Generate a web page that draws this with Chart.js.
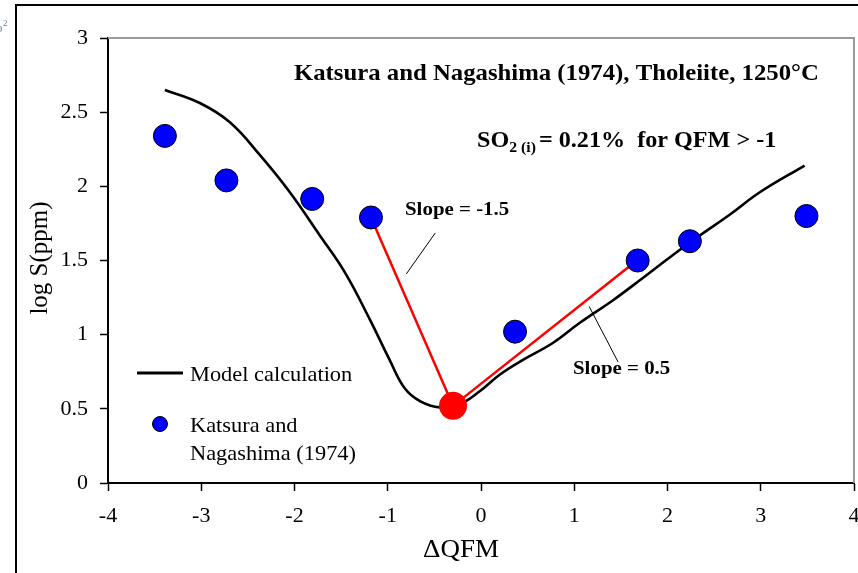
<!DOCTYPE html>
<html>
<head>
<meta charset="utf-8">
<script src="https://cdn.jsdelivr.net/npm/chart.js@4.4.1/dist/chart.umd.min.js"></script>
<style>
  html, body { margin: 0; padding: 0; background: #fff; }
  canvas { display: block; }
</style>
</head>
<body>
<canvas id="chart" width="858" height="573"></canvas>
<script>
// ─── Data ──────────────────────────────────────────────────────

// Model calculation curve (black line)
const modelX = [-3.39, -3.01, -2.69, -2.37, -2.05, -1.73, -1.46, -1.19, -0.98, -0.82, -0.65, -0.44, -0.23, -0.01, 0.20, 0.45, 0.77, 1.06, 1.42, 1.71, 2.03, 2.35, 2.67, 2.99, 3.47];
const modelY = [2.65, 2.56, 2.43, 2.21, 1.96, 1.67, 1.42, 1.10, 0.83, 0.64, 0.55, 0.51, 0.53, 0.62, 0.73, 0.83, 0.944, 1.08, 1.234, 1.37, 1.524, 1.67, 1.81, 1.96, 2.14];

// Katsura and Nagashima (1974) measurements (blue dots)
const expX = [-3.39, -2.73, -1.81, -1.18, 0.365, 1.68, 2.24, 3.49];
const expY = [2.34, 2.04, 1.915, 1.79, 1.02, 1.50, 1.63, 1.80];

// Slope lines (red) through the minimum
const slopeX = [-1.18, -0.30, 1.61];
const slopeY = [1.79, 0.52, 1.47];
const minX = [-0.30];
const minY = [0.52];

// Leader lines from the slope labels
const leader1X = [-0.49, -0.80];
const leader1Y = [1.686, 1.41];
const leader2X = [1.16, 1.47];
const leader2Y = [1.19, 0.816];

const xTickLabels = ['-4', '-3', '-2', '-1', '0', '1', '2', '3', '4'];
const yTickLabels = ['0', '0.5', '1', '1.5', '2', '2.5', '3'];

const SERIF = '"Liberation Serif", "Times New Roman", serif';

const pts = (xs, ys) => xs.map((x, i) => ({ x, y: ys[i] }));

// Source figure is slightly stretched horizontally, so text is too.
function wideText(ctx, text, x, y, sx) {
    ctx.save();
    ctx.translate(x, y);
    ctx.scale(sx, 1);
    ctx.fillText(text, 0, 0);
    const w = ctx.measureText(text).width * sx;
    ctx.restore();
    return w;
}

// ─── Frame, titles and legend drawn on top of the chart ──────

const decorations = {
    id: 'decorations',
    beforeDraw(chart) {
        const ctx = chart.ctx;
        ctx.save();
        ctx.fillStyle = '#fff';
        ctx.fillRect(0, 0, chart.width, chart.height);
        ctx.restore();
    },
    afterDraw(chart) {
        const ctx = chart.ctx;
        const a = chart.chartArea;
        ctx.save();

        // outer frame (left + top only, rest is cut off)
        ctx.strokeStyle = '#000';
        ctx.lineWidth = 2;
        ctx.beginPath();
        ctx.moveTo(16, chart.height);
        ctx.lineTo(16, 5);
        ctx.lineTo(chart.width, 5);
        ctx.stroke();

        // grey top/right border of the plot area
        ctx.strokeStyle = '#9a9a9a';
        ctx.lineWidth = 2;
        ctx.beginPath();
        ctx.moveTo(a.left, a.top);
        ctx.lineTo(a.right, a.top);
        ctx.lineTo(a.right, a.bottom);
        ctx.stroke();

        // cropped fragment in the top-left corner
        ctx.fillStyle = '#6b7fa6';
        ctx.font = '13px ' + SERIF;
        ctx.textBaseline = 'alphabetic';
        ctx.fillText('o', -4, 32);
        ctx.font = '9px ' + SERIF;
        ctx.fillText('2', 3, 26);

        ctx.fillStyle = '#000';

        // axis titles
        ctx.font = '25px ' + SERIF;
        ctx.textAlign = 'center';
        ctx.textBaseline = 'middle';
        ctx.save();
        ctx.translate(461, 550);
        ctx.scale(1.08, 1);
        ctx.fillText('\u0394QFM', 0, 0);
        ctx.restore();
        ctx.save();
        ctx.translate(40, 258);
        ctx.rotate(-Math.PI / 2);
        ctx.fillText('log S(ppm)', 0, 0);
        ctx.restore();

        // title
        ctx.textAlign = 'left';
        ctx.textBaseline = 'alphabetic';
        ctx.font = 'bold 23px ' + SERIF;
        wideText(ctx, 'Katsura and Nagashima (1974), Tholeiite, 1250\u00b0C', 294, 80, 1.076);

        // SO2 line with subscript
        let x = 477;
        const base = 147;
        const sx = 1.05;
        ctx.font = 'bold 23px ' + SERIF;
        x += wideText(ctx, 'SO', x, base, sx);
        ctx.font = 'bold 15px ' + SERIF;
        x += wideText(ctx, '2 (i)', x, base + 5, sx) + 3;
        ctx.font = 'bold 23px ' + SERIF;
        wideText(ctx, '= 0.21%  for QFM > -1', x, base, sx);

        // slope labels
        ctx.font = 'bold 19px ' + SERIF;
        ctx.textBaseline = 'middle';
        wideText(ctx, 'Slope = -1.5', 405, 210, 1.1);
        wideText(ctx, 'Slope = 0.5', 573, 369, 1.1);

        // legend
        ctx.strokeStyle = '#000';
        ctx.lineWidth = 3;
        ctx.beginPath();
        ctx.moveTo(137, 373);
        ctx.lineTo(183, 373);
        ctx.stroke();
        ctx.beginPath();
        ctx.arc(160, 424, 7.5, 0, Math.PI * 2);
        ctx.fillStyle = '#0000ff';
        ctx.fill();
        ctx.lineWidth = 1;
        ctx.stroke();

        ctx.fillStyle = '#000';
        ctx.font = '21px ' + SERIF;
        wideText(ctx, 'Model calculation', 190, 375, 1.066);
        wideText(ctx, 'Katsura and', 190, 426, 1.066);
        wideText(ctx, 'Nagashima (1974)', 190, 454, 1.066);

        ctx.restore();
    }
};

// ─── Chart ─────────────────────────────────────────────────────

const canvas = document.getElementById('chart');

new Chart(canvas, {
    type: 'scatter',
    data: {
        datasets: [
            {
                label: 'Katsura and Nagashima (1974)',
                data: pts(expX, expY),
                pointRadius: 11.5,
                pointBackgroundColor: '#0000ff',
                pointBorderColor: '#000',
                pointBorderWidth: 1,
                showLine: false,
                order: 0
            },
            {
                label: 'Minimum',
                data: pts(minX, minY),
                pointRadius: 14,
                pointBackgroundColor: '#ff0000',
                pointBorderColor: '#ff0000',
                pointBorderWidth: 0,
                showLine: false,
                order: 1
            },
            {
                label: 'Slope',
                data: pts(slopeX, slopeY),
                showLine: true,
                borderColor: '#ff0000',
                borderWidth: 2.5,
                pointRadius: 0,
                order: 2
            },
            {
                label: 'Model calculation',
                data: pts(modelX, modelY),
                showLine: true,
                borderColor: '#000',
                borderWidth: 2.6,
                pointRadius: 0,
                tension: 0.4,
                order: 3
            },
            {
                label: 'leader1',
                data: pts(leader1X, leader1Y),
                showLine: true,
                borderColor: '#000',
                borderWidth: 1,
                pointRadius: 0,
                order: 4
            },
            {
                label: 'leader2',
                data: pts(leader2X, leader2Y),
                showLine: true,
                borderColor: '#000',
                borderWidth: 1,
                pointRadius: 0,
                order: 4
            }
        ]
    },
    options: {
        responsive: false,
        animation: false,
        devicePixelRatio: 1,
        layout: {
            autoPadding: false,
            padding: { left: 0, top: 38, right: 4, bottom: 0 }
        },
        plugins: {
            legend: { display: false },
            tooltip: { enabled: false }
        },
        scales: {
            x: {
                type: 'linear',
                min: -4,
                max: 4,
                afterFit(scale) {
                    scale.height = 90;
                    scale.paddingLeft = 0;
                    scale.paddingRight = 0;
                },
                afterBuildTicks(scale) {
                    scale.ticks = xTickLabels.map(v => ({ value: parseFloat(v) }));
                },
                ticks: {
                    color: '#000',
                    font: { family: SERIF, size: 22 },
                    padding: 12,
                    maxRotation: 0,
                    callback: (v, i) => xTickLabels[i]
                },
                grid: {
                    drawOnChartArea: false,
                    tickLength: 8,
                    tickColor: '#000',
                    tickWidth: 1.5
                },
                border: { display: true, color: '#000', width: 2 }
            },
            y: {
                type: 'linear',
                min: 0,
                max: 3,
                afterFit(scale) {
                    scale.width = 108;
                    scale.paddingTop = 0;
                    scale.paddingBottom = 0;
                },
                afterBuildTicks(scale) {
                    scale.ticks = yTickLabels.map(v => ({ value: parseFloat(v) }));
                },
                ticks: {
                    color: '#000',
                    font: { family: SERIF, size: 22 },
                    padding: 12,
                    callback: (v, i) => yTickLabels[i]
                },
                grid: {
                    drawOnChartArea: false,
                    tickLength: 8,
                    tickColor: '#000',
                    tickWidth: 1.5
                },
                border: { display: true, color: '#000', width: 2 }
            }
        }
    },
    plugins: [decorations]
});
</script>
</body>
</html>
